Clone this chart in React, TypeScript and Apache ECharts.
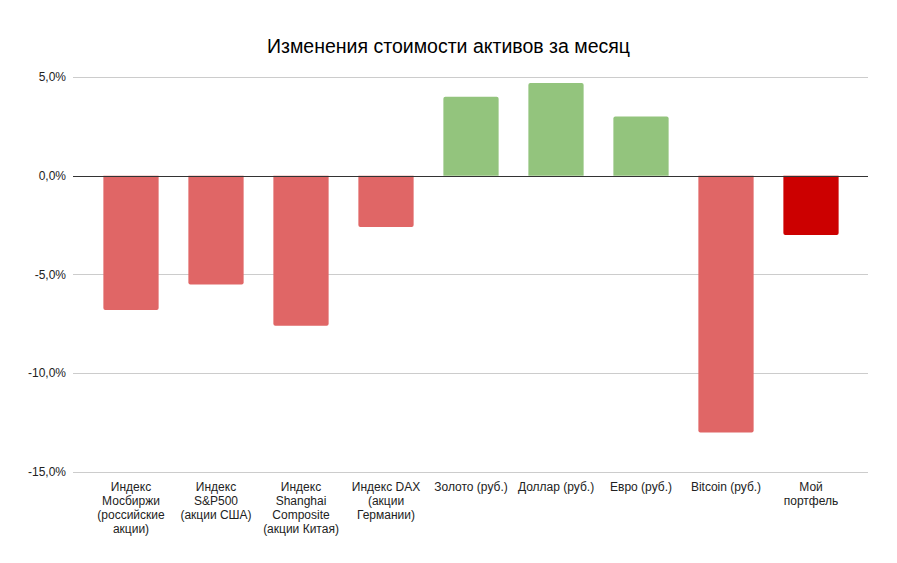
import React, { useEffect, useRef } from "react";
import * as echarts from "echarts";

const categories = [
  "Индекс\nМосбиржи\n(российские\nакции)",
  "Индекс\nS&P500\n(акции США)",
  "Индекс\nShanghai\nComposite\n(акции Китая)",
  "Индекс DAX\n(акции\nГермании)",
  "Золото (руб.)",
  "Доллар (руб.)",
  "Евро (руб.)",
  "Bitcoin (руб.)",
  "Мой\nпортфель",
];
const values = [-6.8, -5.5, -7.6, -2.6, 4.0, 4.7, 3.0, -13.0, -3.0];
const isPortfolio = [false, false, false, false, false, false, false, false, true];

const RED = "#e06666";
const GREEN = "#93c47d";
const DARK_RED = "#cc0000";
const FONT = "'Liberation Sans', Arial, sans-serif";

export default function App() {
  const ref = useRef<HTMLDivElement>(null);
  useEffect(() => {
    if (!ref.current) return;
    const chart = echarts.init(ref.current, null, { renderer: "svg" });
    chart.setOption({
      animation: false,
      backgroundColor: "#ffffff",
      title: {
        text: "Изменения стоимости активов за месяц",
        left: "center",
        top: 31,
        textStyle: {
          fontFamily: FONT,
          fontSize: 19.5,
          fontWeight: "normal",
          color: "#000000",
        },
      },
      grid: [
        { left: 73, right: 29, top: 77, bottom: 91, containLabel: false },
        { left: 88.5, right: 43.5, top: 77, bottom: 91, containLabel: false },
      ],
      xAxis: [
        { type: "category", gridIndex: 0, data: [""], show: false },
        {
          type: "category",
          gridIndex: 1,
          data: categories,
          axisLine: { show: false },
          axisTick: { show: false },
          axisLabel: {
            interval: 0,
            margin: 8,
            fontFamily: FONT,
            fontSize: 12,
            lineHeight: 14,
            color: "#222222",
            align: "center",
          },
        },
      ],
      yAxis: [
        {
          type: "value",
          gridIndex: 0,
          min: -15,
          max: 5,
          interval: 5,
          axisLine: { show: false },
          axisTick: { show: false },
          splitLine: { lineStyle: { color: "#cccccc", width: 1 } },
          axisLabel: {
            margin: 7,
            fontFamily: FONT,
            fontSize: 12,
            color: "#222222",
            formatter: (v: number) => v.toFixed(1).replace(".", ",") + "%",
          },
        },
        {
          type: "value",
          gridIndex: 1,
          min: -15,
          max: 5,
          interval: 5,
          show: false,
          splitLine: { show: false },
        },
      ],
      series: [
        {
          type: "bar",
          xAxisIndex: 0,
          yAxisIndex: 0,
          data: [null],
          silent: true,
          markLine: {
            silent: true,
            symbol: "none",
            label: { show: false },
            lineStyle: { color: "#333333", width: 1, type: "solid" },
            data: [{ yAxis: 0 }],
          },
          z: 3,
        },
        {
          type: "bar",
          xAxisIndex: 1,
          yAxisIndex: 1,
          barCategoryGap: "35%",
          z: 2,
          data: values.map((v, i) => ({
            value: v,
            itemStyle: {
              color: isPortfolio[i] ? DARK_RED : v >= 0 ? GREEN : RED,
              borderRadius: v >= 0 ? [2, 2, 0, 0] : [0, 0, 2, 2],
            },
          })),
        },
      ],
    });
    return () => chart.dispose();
  }, []);
  return <div ref={ref} style={{ width: 897, height: 563, margin: -8 }} />;
}
